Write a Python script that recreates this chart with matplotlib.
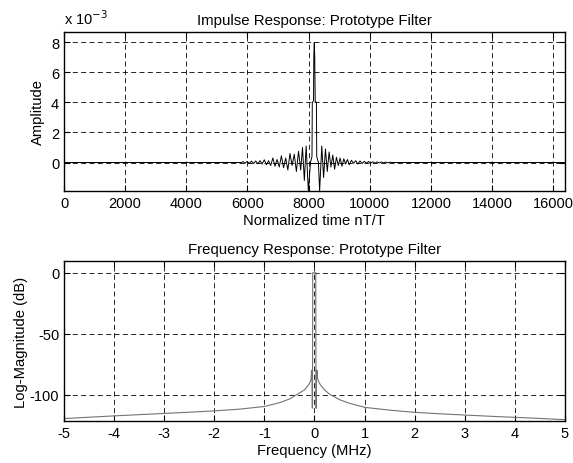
import matplotlib
matplotlib.use("Agg")
import matplotlib.pyplot as plt

plt.rcParams["font.family"] = ["Liberation Sans", "DejaVu Sans"]
plt.rcParams["font.size"] = 10
plt.rcParams["axes.unicode_minus"] = False

# impulse response of the prototype filter (amplitude in units of 1e-3)
imp_t = [0, 5800, 5860, 5920, 5990, 6060, 6130, 6200, 6270, 6340, 6410, 6480,
         6550, 6620, 6690, 6760, 6830, 6900, 6970, 7040, 7110, 7180, 7250, 7320,
         7390, 7460, 7530, 7600, 7670, 7740, 7800, 7860, 7920, 7990, 8060,
         8110, 8120, 8160, 8170, 8185, 8200, 8215, 8255, 8265, 8320, 8360,
         8430, 8490, 8550, 8610, 8670, 8730, 8790, 8850, 8910, 8970, 9030,
         9090, 9150, 9210, 9270, 9330, 9400, 9470, 9540, 9610, 9680, 9750,
         9820, 9890, 9960, 10030, 10100, 10170, 10240, 10310, 10380, 10450,
         10520, 10590, 10660, 10720, 16384]
imp_a = [0, 0, 0.06, -0.05, 0.07, -0.06, 0.09, -0.07, 0.1, -0.09, 0.12, -0.1,
         0.18, -0.15, 0.12, -0.2, 0.3, -0.25, 0.2, -0.3, 0.45, -0.35, 0.3,
         -0.5, 0.6, -0.2, 0.55, -0.6, 0.75, -0.5, 1.0, -1.2, 1.1, -1.9, 0.0,
         0.4, 4.0, 4.1, 7.0, 8.0, 7.0, 4.1, 4.0, 0.4, 0.0, -1.9,
         1.1, -1.0, 0.9, -0.6, 0.7, -0.3, 0.5, -0.45, 0.35, -0.2, 0.3,
         -0.25, 0.25, -0.1, 0.2, -0.15, 0.15, -0.05, 0.12, -0.1, 0.1, -0.06,
         0.08, -0.05, 0.07, -0.04, 0.05, -0.05, 0.04, -0.03, 0.04, -0.03,
         0.03, -0.02, 0.02, 0, 0]
flat_t = [8050, 8370]
flat_a = [0, 0]

# frequency response (MHz, dB)
freq = [-5, -4.5, -4, -3.5, -3, -2.5, -2, -1.5, -1, -0.7, -0.5, -0.3, -0.2,
        -0.12, -0.08, -0.065, -0.06, -0.055, -0.05, -0.045, -0.04, -0.035,
        0.0, 0.025, 0.03, 0.035, 0.04, 0.045, 0.05, 0.06, 0.08, 0.12, 0.2,
        0.3, 0.5, 0.7, 1, 1.5, 2, 2.5, 3, 3.5, 4, 4.5, 5]
mag_db = [-119.5, -118.4, -117.3, -116.3, -115.3, -114.3, -113.2, -111.8,
          -109.6, -106.5, -103.5, -98.5, -96, -92, -89, -86, -80, -85, -80,
          -111, -111, 0, 0, 0, -111, -111, -80, -85, -80, -86, -89, -92, -96,
          -99.5, -104, -107, -110.3, -112.6, -114.4, -115.6, -116.6, -117.6,
          -118.5, -119.4, -120.4]

fig = plt.figure(figsize=(5.73, 4.64), dpi=100)
ax1 = fig.add_axes([0.1117, 0.5862, 0.8743, 0.3427])
ax2 = fig.add_axes([0.1117, 0.0905, 0.8743, 0.3448])

ax1.plot(imp_t, imp_a, color="black", linewidth=0.7)
ax1.plot(flat_t, flat_a, color="black", linewidth=0.7)
ax1.set_xlim(0, 16384)
ax1.set_ylim(-1.9, 8.7)
ax1.set_xticks(range(0, 16001, 2000))
ax1.set_yticks([0, 2, 4, 6, 8])
ax1.set_xlabel("Normalized time nT/T", fontsize=10.6, labelpad=2)
ax1.set_ylabel("Amplitude", fontsize=10.6, labelpad=4)
ax1.set_title("Impulse Response: Prototype Filter", fontsize=10.8, pad=6)
ax1.text(0.0, 1.03, "x 10$^{-3}$", transform=ax1.transAxes, ha="left", va="bottom",
         fontsize=10.5)

ax2.plot(freq, mag_db, color="0.45", linewidth=0.8)
ax2.set_xlim(-5, 5)
ax2.set_ylim(-121.5, 9.6)
ax2.set_xticks(range(-5, 6))
ax2.set_yticks([-100, -50, 0])
ax2.set_xlabel("Frequency (MHz)", fontsize=10.6, labelpad=2)
ax2.set_ylabel("Log-Magnitude (dB)", fontsize=10.6, labelpad=1)
ax2.set_title("Frequency Response: Prototype Filter", fontsize=10.8, pad=6)

for ax in (ax1, ax2):
    ax.grid(True, color="black", linestyle=(0, (6, 4)), linewidth=0.6)
    ax.tick_params(direction="in", top=True, right=True, length=4, labelsize=10.5)
    for s in ax.spines.values():
        s.set_linewidth(1.0)

plt.savefig("out.png", dpi=100)
